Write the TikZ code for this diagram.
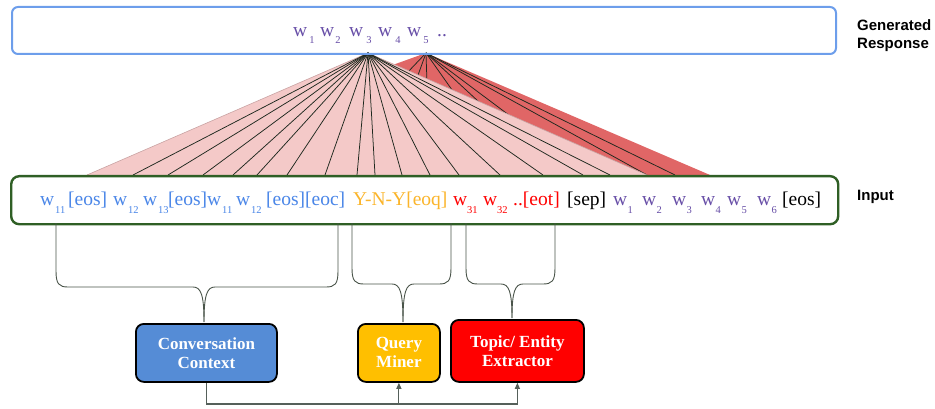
\documentclass[tikz,border=0pt]{standalone}
\usepackage{fontspec}
\setmainfont{Liberation Serif}
\newfontfamily\labelfont{Liberation Sans}
\usetikzlibrary{arrows.meta}
\definecolor{genblue}{HTML}{6D9EEB}
\definecolor{inpgreen}{HTML}{2F5F25}
\definecolor{pinkfan}{HTML}{F4C9C8}
\definecolor{pinkedge}{HTML}{C9A3A3}
\definecolor{redfan}{HTML}{E06666}
\definecolor{fanline}{HTML}{1E281E}
\definecolor{tokblue}{HTML}{4A86E8}
\definecolor{tokorange}{HTML}{FBB52B}
\definecolor{tokred}{HTML}{FF0000}
\definecolor{tokpurple}{HTML}{674EA7}
\definecolor{ccblue}{HTML}{558CD6}
\definecolor{qmyellow}{HTML}{FFBF00}
\definecolor{braceline}{HTML}{4A544A}
\definecolor{busline}{HTML}{55605A}
\newcommand\mybrace[5]{%
  \draw[bracel] (#1,223) -- (#1,#4-16) .. controls (#1,#4-3) and (#1+3,#4) .. (#1+12,#4)
     -- (#3-11,#4) .. controls (#3-3,#4) and (#3,#4+8) .. (#5);
  \draw[bracel] (#2,223) -- (#2,#4-16) .. controls (#2,#4-3) and (#2-3,#4) .. (#2-12,#4)
     -- (#3+11,#4) .. controls (#3+3,#4) and (#3,#4+8) .. (#5);}
\begin{document}
\begin{tikzpicture}[x=1pt,y=-1pt,
  tok/.style={anchor=base west,inner sep=0pt,font=\fontsize{19.5}{20}\selectfont},
  sub/.style={anchor=base,inner sep=0pt,font=\fontsize{10.5}{11}\selectfont},
  fanln/.style={draw=fanline,line width=0.75pt},
  bracel/.style={draw=braceline,line width=0.9pt},
  busln/.style={draw=busline,line width=1.1pt},
  modbox/.style={draw=black,line width=1.8pt,rounded corners=8pt,text=white,
     font=\bfseries\fontsize{17}{19}\selectfont,align=center,inner sep=0pt},
  side/.style={anchor=west,inner sep=0pt,font=\labelfont\bfseries\fontsize{15}{18}\selectfont,align=left}]
\useasboundingbox (0,0) rectangle (935,409);

% apex points
\coordinate (a3) at (368,53);
\coordinate (a5) at (426,53);
% landing points on the input box
\foreach \x [count=\i] in {87,133,168,203,233,257,287,325,357,375,402,430,459,500,543,583,610,647,675,710}
  \coordinate (t\i) at (\x,175);
\foreach \x [count=\i] in {310,382,430,512,558,589}
  \coordinate (u\i) at (\x,175);

% red fan (w5), behind
\fill[redfan] (a5) -- (t1) -- (t20) -- cycle;
\foreach \i in {1,...,6} \draw[fanln] (a5) -- (u\i);
\foreach \i in {18,19} \draw[fanln] (a5) -- (t\i);
% pink fan (w3), in front
\fill[pinkfan] (a3) -- (t1) -- (t18) -- cycle;
\draw[pinkedge,line width=0.6pt] (t1) -- (a3) -- (t18);
\foreach \i in {2,...,17} \draw[fanln] (a3) -- (t\i);

% generated response box
\node (gen) [draw=genblue,line width=2pt,rounded corners=6pt,minimum width=824pt,minimum height=47pt,anchor=north west,inner sep=0pt] at (11,6) {};
\foreach \x/\n in {293/1,320/2,349/3,378/4,407/5}
  \node (gw\n) [tok,text=tokpurple] at (\x,37) {w};
\foreach \x/\n in {312/1,338/2,369/3,398/4,426/5}
  \node (gs\n) [sub,text=tokpurple] at (\x,44) {\n};
\node (gdots) [tok,text=tokpurple] at (437,37) {..};

% input box
\node (inp) [draw=inpgreen,line width=2.4pt,rounded corners=8pt,minimum width=827pt,minimum height=48pt,anchor=north west,inner sep=0pt,fill=white] at (10,175) {};
\begin{scope}[every node/.append style={text=tokblue}]
\node (i1) [tok] at (40,205) {w};   \node (s1) [sub,anchor=base west] at (55,213) {11};
\node (i2) [tok] at (68,205) {[eos]};
\node (i3) [tok] at (113,205) {w};  \node (s3) [sub,anchor=base west] at (128,213) {12};
\node (i4) [tok] at (143,205) {w};  \node (s4) [sub,anchor=base west] at (158,213) {13};
\node (i5) [tok] at (168,205) {[eos]};
\node (i6) [tok] at (207,205) {w};  \node (s6) [sub,anchor=base west] at (222,213) {11};
\node (i7) [tok] at (236,205) {w};  \node (s7) [sub,anchor=base west] at (251,213) {12};
\node (i8) [tok] at (266,205) {[eos][eoc]};
\end{scope}
\node (i9) [tok,text=tokorange] at (353,205) {Y-N-Y[eoq]};
\begin{scope}[every node/.append style={text=tokred}]
\node (i10) [tok] at (453,205) {w}; \node (s10) [sub,anchor=base west] at (467,213) {31};
\node (i11) [tok] at (483,205) {w}; \node (s11) [sub,anchor=base west] at (497,213) {32};
\node (i12) [tok] at (513,205) {..[eot]};
\end{scope}
\node (i13) [tok] at (567,205) {[sep]};
\foreach \x/\n in {613/1,642/2,672/3,701/4,727/5,757/6}{
  \node (r\n) [tok,text=tokpurple] at (\x,205) {w};
  \node (rs\n) [sub,anchor=base west,text=tokpurple] at (\x+14.5,213) {\n};}
\node (i14) [tok] at (782,205) {[eos]};

% side labels
\node (lgen) [side] at (857,36) {Generated\\Response};
\node (linp) [side] at (857,197) {Input};

% module boxes
\node (cc) [modbox,fill=ccblue,minimum width=141pt,minimum height=58pt,anchor=north west] at (135,323) {Conversation\\Context};
\node (qm) [modbox,fill=qmyellow,minimum width=82pt,minimum height=58pt,anchor=north west] at (357,323) {Query\\Miner};
\node (te) [modbox,fill=tokred,minimum width=133pt,minimum height=62pt,anchor=north west] at (450,319) {Topic/ Entity\\Extractor};

% braces from input to modules
\coordinate (ctip) at (204,322);
\coordinate (qtip) at (403,322);
\coordinate (ttip) at (512,318);
\mybrace{56}{338}{204}{287}{ctip}
\mybrace{352}{451}{403}{284}{qtip}
\mybrace{466}{555}{512}{284}{ttip}

% bottom bus
\coordinate (bus) at (0,404);
\draw[busln,-{Triangle[length=6pt,width=5pt]}] (cc.south) -- (cc.south |- bus) -- (te.south |- bus) -- (te.south);
\draw[busln,-{Triangle[length=6pt,width=5pt]}] (qm.south |- bus) -- (qm.south);
\end{tikzpicture}
\end{document}
